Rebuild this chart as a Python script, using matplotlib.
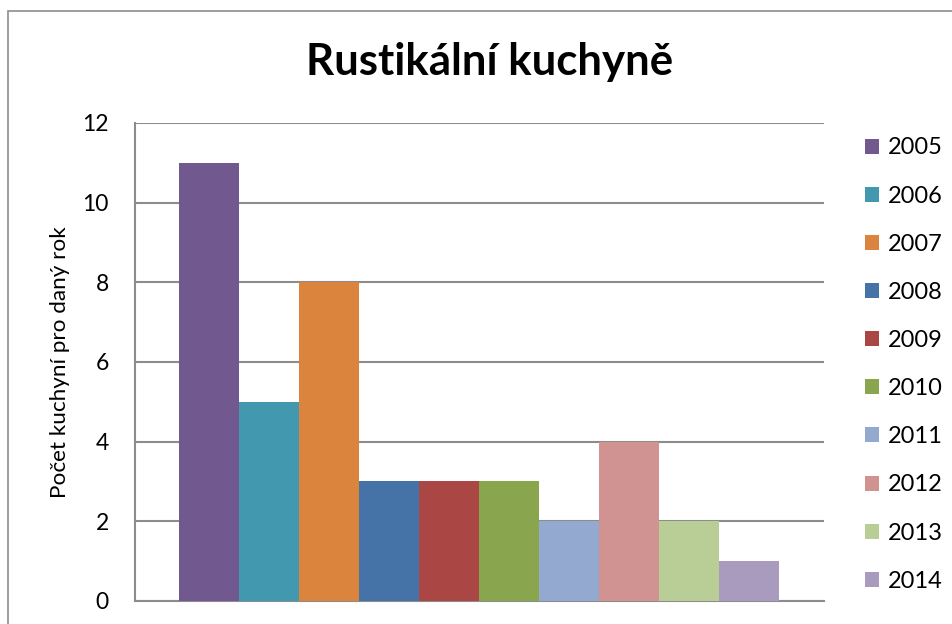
import matplotlib
matplotlib.use("Agg")
import matplotlib.pyplot as plt
from matplotlib.patches import Rectangle, Patch

plt.rcParams['font.family'] = ['Lato', 'DejaVu Sans']

# Data
years = ['2005', '2006', '2007', '2008', '2009', '2010', '2011', '2012', '2013', '2014']
counts = [11, 5, 8, 3, 3, 3, 2, 4, 2, 1]
colors = ['#71588F', '#4198AF', '#DB843D', '#4572A7', '#AA4643',
          '#89A54E', '#93A9CF', '#D19392', '#B9CD96', '#A99BBD']
yticks = [0, 2, 4, 6, 8, 10, 12]

fig = plt.figure(figsize=(9.53, 6.24), dpi=100)
ax = fig.add_axes([0.1417, 0.0369, 0.7229, 0.766])

# chart border (Excel chart area)
fig.patches.append(Rectangle((8 / 953, -0.1), 1.2, 1 - 11 / 624 + 0.1,
                             transform=fig.transFigure, fill=False,
                             edgecolor='#8c8c8c', lw=1.2))

positions = list(range(len(years)))
ax.bar(positions, counts, width=1.0, color=colors, zorder=3)

ax.set_xlim(-1.24, 10.25)
ax.set_ylim(0, 12)
ax.set_yticks(yticks)
ax.set_yticklabels([str(t) for t in yticks], fontsize=16.5)
ax.set_xticks([])
ax.tick_params(axis='y', length=0, pad=19)
ax.grid(axis='y', color='#8c8c8c', lw=1.5, zorder=0)

for side in ['top', 'right']:
    ax.spines[side].set_visible(False)
for side in ['left', 'bottom']:
    ax.spines[side].set_color('#8c8c8c')
    ax.spines[side].set_linewidth(1.5)

ax.set_ylabel('Počet kuchyní pro daný rok', fontsize=16.2, labelpad=9)

fig.text(0.514, 0.90, 'Rustikální kuchyně', fontsize=31.5, fontweight='bold',
         ha='center', va='center')

handles = [Patch(facecolor=c, edgecolor='none') for c in colors]
fig.legend(handles, years, loc='upper left', bbox_to_anchor=(0.898, 0.795),
           frameon=False, fontsize=17, handlelength=0.6, handleheight=0.6,
           handletextpad=0.35, labelspacing=1.15, borderaxespad=0)

fig.savefig('out.png', dpi=100)
